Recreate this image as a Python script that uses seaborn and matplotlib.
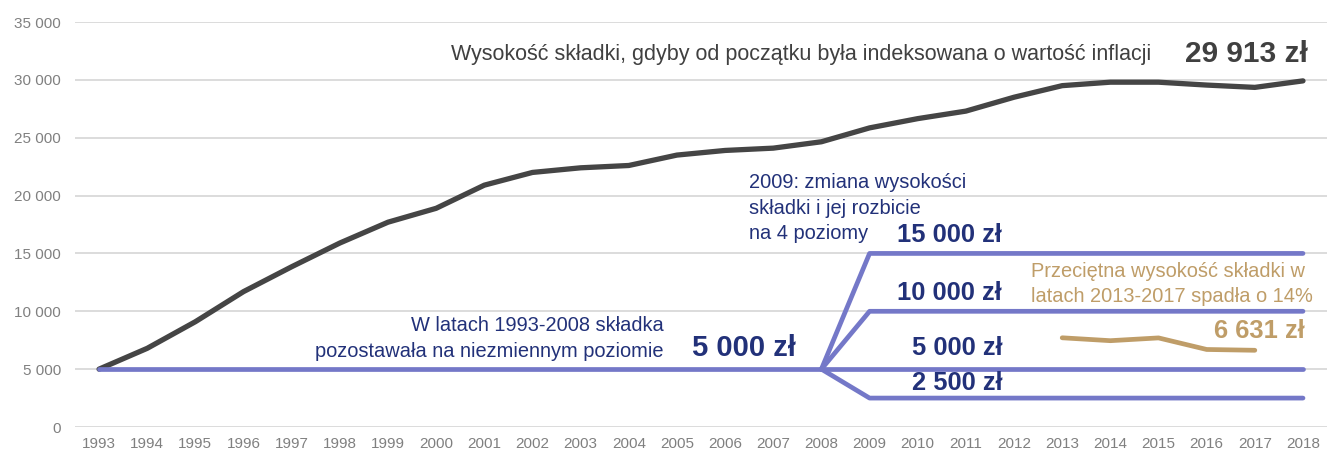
import matplotlib
matplotlib.use("Agg")
import matplotlib.pyplot as plt
import seaborn as sns
import pandas as pd

# ---- data ----
years = list(range(1993, 2019))
indexed = [5000, 6800, 9100, 11700, 13850, 15900, 17700, 18900, 20900, 22000,
           22400, 22600, 23500, 23900, 24100, 24650, 25850, 26650, 27300, 28500,
           29500, 29800, 29800, 29550, 29350, 29913]
flat_years = list(range(1993, 2009))
flat_values = [5000] * len(flat_years)
level_years = list(range(2008, 2019))
levels = [15000, 10000, 5000, 2500]
avg_years = [2013, 2014, 2015, 2016, 2017]
avg_values = [7710, 7460, 7700, 6700, 6631]
y_ticks = [0, 5000, 10000, 15000, 20000, 25000, 30000, 35000]

GRAY = "#454545"
BLUE = "#7478C8"
NAVY = "#223179"
TAN = "#BF9D68"
TICK = "#808080"

sns.set_theme(style="white")
plt.rcParams["font.family"] = ["Liberation Sans", "DejaVu Sans"]

fig = plt.figure(figsize=(13.34, 4.51), dpi=100)
ax = fig.add_axes([0.0562, 0.0532, 0.9386, 0.898])

df_idx = pd.DataFrame({"year": years, "value": indexed})
sns.lineplot(data=df_idx, x="year", y="value", ax=ax, color=GRAY, lw=3.8,
             solid_capstyle="round", solid_joinstyle="round")

df_flat = pd.DataFrame({"year": flat_years, "value": flat_values})
sns.lineplot(data=df_flat, x="year", y="value", ax=ax, color=BLUE, lw=3.4,
             solid_capstyle="round", solid_joinstyle="round")
for lv in levels:
    vals = [5000] + [lv] * (len(level_years) - 1)
    d = pd.DataFrame({"year": level_years, "value": vals})
    sns.lineplot(data=d, x="year", y="value", ax=ax, color=BLUE, lw=3.4,
                 solid_capstyle="round", solid_joinstyle="round")

df_avg = pd.DataFrame({"year": avg_years, "value": avg_values})
sns.lineplot(data=df_avg, x="year", y="value", ax=ax, color=TAN, lw=3.4,
             solid_capstyle="round", solid_joinstyle="round")

ax.set_xlim(1992.5, 2018.5)
ax.set_ylim(0, 35000)
ax.set_xticks(years)
ax.set_xticklabels([str(y) for y in years])
ax.set_yticks(y_ticks)
ax.set_yticklabels([f"{v:,}".replace(",", " ") for v in y_ticks])
ax.tick_params(axis="both", length=0, labelsize=11, labelcolor=TICK)
ax.tick_params(axis="x", pad=7)
ax.tick_params(axis="y", pad=10)
ax.set_xlabel("")
ax.set_ylabel("")
ax.grid(axis="y", color="#d9d9d9", lw=1.3)
ax.set_axisbelow(True)
for s in ax.spines.values():
    s.set_visible(False)

# ---- annotations ----
ax.text(2000.30, 32235, "Wysokość składki, gdyby od początku była indeksowana o wartość inflacji",
        ha="left", va="center", fontsize=15.5, color="#404040")
ax.text(2018.10, 32235, "29 913 zł", ha="right", va="center", fontsize=21.5,
        fontweight="bold", color="#404040")

for line, yy in zip(["2009: zmiana wysokości", "składki i jej rozbicie", "na 4 poziomy"],
                    [20655, 18443, 16239]):
    ax.text(2006.49, yy, line, ha="left", va="baseline", fontsize=14.4, color=NAVY)

for line, yy in zip(["W latach 1993-2008 składka", "pozostawała na niezmiennym poziomie"],
                    [8297, 6080]):
    ax.text(2004.72, yy, line, ha="right", va="baseline", fontsize=14.4, color=NAVY)

ax.text(2005.32, 6827, "5 000 zł", ha="left", va="center", fontsize=21,
        fontweight="bold", color=NAVY)
for lv, yy in zip(levels, [16619, 11581, 6827, 3803]):
    ax.text(2011.755, yy, f"{lv:,}".replace(",", " ") + " zł", ha="right", va="center",
            fontsize=18.4, fontweight="bold", color=NAVY)

for line, yy in zip(["Przeciętna wysokość składki w", "latach 2013-2017 spadła o 14%"],
                    [12990, 10829]):
    ax.text(2012.36, yy, line, ha="left", va="baseline", fontsize=14.4, color=TAN)
ax.text(2018.04, 8297, "6 631 zł", ha="right", va="center", fontsize=18.4,
        fontweight="bold", color=TAN)

fig.savefig("out.png", dpi=100)
